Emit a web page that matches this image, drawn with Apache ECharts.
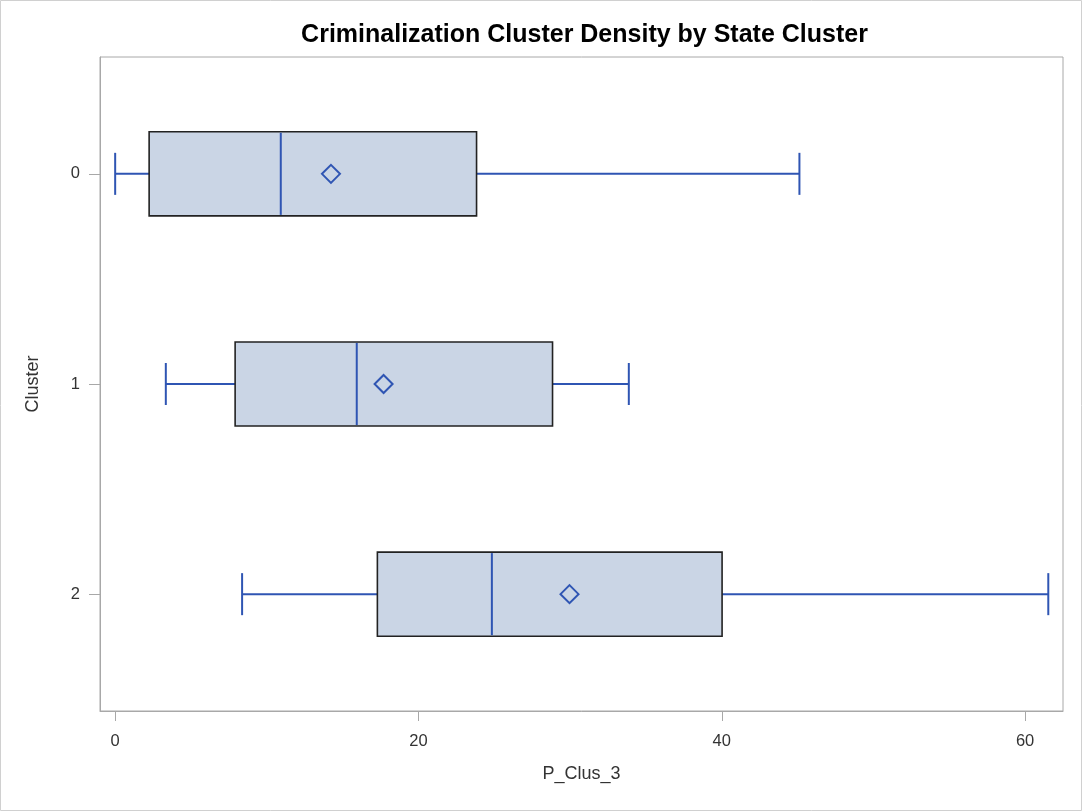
<!DOCTYPE html>
<html>
<head>
<meta charset="utf-8">
<script src="https://cdn.jsdelivr.net/npm/echarts@6/dist/echarts.min.js"></script>
<style>
html,body{margin:0;padding:0;background:#fff;}
#c{width:1082px;height:811px;}
</style>
</head>
<body>
<div id="c"></div>
<script>
// Data
const clusters = ['0', '1', '2'];
const whiskerLow = [0.0, 3.34, 8.37];
const q1 = [2.24, 7.91, 17.29];
const median = [10.92, 15.93, 24.84];
const q3 = [23.83, 28.84, 40.02];
const whiskerHigh = [45.12, 33.87, 61.53];
const mean = [14.23, 17.7, 29.96];
const xTicks = [0, 20, 40, 60];
const yTicks = [0, 1, 2];

const rows = clusters.map((c, i) => [i, whiskerLow[i], q1[i], median[i], q3[i], whiskerHigh[i], mean[i]]);

const BLUE = '#2f55b3';
const FILL = '#cad5e5';
const AXIS = '#a8a8a8';
const TXT = '#333333';
const FONT = '"Liberation Sans", Arial, sans-serif';

function renderItem(params, api) {
  const cat = api.value(0);
  const lo = api.coord([api.value(1), cat]);
  const a = api.coord([api.value(2), cat]);
  const m = api.coord([api.value(3), cat]);
  const b = api.coord([api.value(4), cat]);
  const hi = api.coord([api.value(5), cat]);
  const mn = api.coord([api.value(6), cat]);
  const halfBox = Math.abs(api.coord([0, cat + 0.2])[1] - api.coord([0, cat])[1]);
  const halfCap = Math.abs(api.coord([0, cat + 0.1])[1] - api.coord([0, cat])[1]);
  const y = lo[1];
  const ln = {stroke: BLUE, lineWidth: 2};
  const d = 9;
  return {
    type: 'group',
    children: [
      {type: 'line', shape: {x1: lo[0], y1: y, x2: a[0], y2: y}, style: ln},
      {type: 'line', shape: {x1: b[0], y1: y, x2: hi[0], y2: y}, style: ln},
      {type: 'line', shape: {x1: lo[0], y1: y - halfCap, x2: lo[0], y2: y + halfCap}, style: ln},
      {type: 'line', shape: {x1: hi[0], y1: y - halfCap, x2: hi[0], y2: y + halfCap}, style: ln},
      {type: 'rect', shape: {x: a[0], y: y - halfBox, width: b[0] - a[0], height: 2 * halfBox},
        style: {fill: FILL, stroke: '#222', lineWidth: 1.6}},
      {type: 'line', shape: {x1: m[0], y1: y - halfBox + 1, x2: m[0], y2: y + halfBox - 1}, style: ln},
      {type: 'polygon', shape: {points: [[mn[0], y - d], [mn[0] + d, y], [mn[0], y + d], [mn[0] - d, y]]},
        style: {fill: 'rgba(0,0,0,0)', stroke: BLUE, lineWidth: 2}}
    ]
  };
}

const chart = echarts.init(document.getElementById('c'), null, {renderer: 'canvas'});
chart.setOption({
  backgroundColor: '#fff',
  animation: false,
  textStyle: {fontFamily: FONT},
  title: {
    text: 'Criminalization Cluster Density by State Cluster',
    left: 579.5, top: 18, textAlign: 'center',
    textStyle: {fontSize: 25, fontWeight: 'bold', color: '#000', fontFamily: FONT}
  },
  graphic: [{
    type: 'rect', shape: {x: 0.5, y: 0.5, width: 1081, height: 810},
    style: {fill: 'none', stroke: '#d0d0d0', lineWidth: 1}, silent: true, z: 100
  }],
  grid: {left: 100, right: 19, top: 57, bottom: 100, show: true, borderColor: AXIS, borderWidth: 1, backgroundColor: 'transparent'},
  xAxis: {
    type: 'value', min: -1, max: 62.5,
    name: 'P_Clus_3', nameLocation: 'middle', nameGap: 54,
    nameTextStyle: {fontSize: 18, color: TXT},
    axisLine: {show: true, onZero: false, lineStyle: {color: AXIS}},
    axisTick: {show: true, customValues: xTicks, length: 10, lineStyle: {color: AXIS}},
    axisLabel: {customValues: xTicks, fontSize: 16.5, color: TXT, margin: 22},
    splitLine: {show: false}
  },
  yAxis: {
    type: 'value', inverse: true, min: -0.556, max: 2.556,
    name: 'Cluster', nameLocation: 'middle', nameGap: 58, nameRotate: 90,
    nameTextStyle: {fontSize: 18, color: TXT},
    axisLine: {show: true, onZero: false, lineStyle: {color: AXIS}},
    axisTick: {show: true, customValues: yTicks, length: 11, lineStyle: {color: AXIS}},
    axisLabel: {customValues: yTicks, fontSize: 16.5, color: TXT, margin: 20, formatter: v => clusters[v]},
    splitLine: {show: false}
  },
  series: [{
    type: 'custom',
    renderItem: renderItem,
    data: rows,
    encode: {x: [1, 2, 3, 4, 5, 6], y: 0},
    clip: false
  }]
});
</script>
</body>
</html>
